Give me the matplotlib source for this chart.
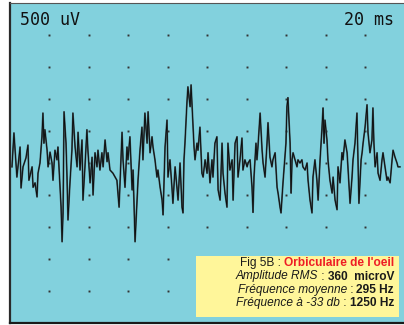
import matplotlib
matplotlib.use("Agg")
import matplotlib.pyplot as plt
from matplotlib.patches import Rectangle

# ---- data: EMG trace (time in ms, amplitude in microvolts) ----
t_ms = [1.0, 2.0, 3.5, 5.1, 5.6, 6.6, 8.1, 9.1, 9.6, 11.2, 11.7, 12.7, 13.7, 14.2, 15.2,
        16.2, 16.7, 17.2, 17.7, 18.8, 19.3, 20.3, 21.3, 21.8, 22.8, 23.8, 24.3, 25.4, 25.9,
        26.4, 26.9, 27.4, 28.4, 28.9, 29.4, 30.4, 31.4, 31.9, 33.0, 34.0, 34.5, 35.5, 36.5,
        37.0, 38.0, 39.0, 39.5, 40.6, 41.6, 42.1, 43.1, 44.1, 44.6, 45.6, 46.6, 47.2, 48.2,
        49.2, 49.7, 50.7, 52.2, 54.2, 55.3, 56.8, 57.3, 58.3, 59.3, 59.8, 60.8, 61.9, 62.4,
        63.4, 64.4, 64.9, 65.9, 66.9, 67.4, 68.4, 69.5, 70.0, 71.0, 72.0, 72.5, 73.5, 74.5,
        75.0, 76.1, 77.1, 77.6, 78.6, 79.6, 80.1, 81.1, 82.1, 82.6, 83.7, 84.7, 85.2, 86.2,
        87.2, 87.7, 88.2, 88.7, 89.7, 90.2, 91.3, 91.8, 92.8, 93.3, 93.8, 94.8, 95.3, 96.3,
        97.3, 97.9, 98.9, 99.9, 100.4, 101.4, 102.4, 102.9, 103.9, 104.9, 105.5, 106.5,
        107.5, 108.0, 109.0, 110.0, 110.5, 111.5, 112.6, 113.1, 114.1, 115.1, 115.6, 116.6,
        117.6, 118.1, 119.1, 120.2, 120.7, 121.7, 122.7, 123.2, 123.7, 124.7, 125.2, 125.7,
        126.8, 127.8, 128.3, 129.3, 130.3, 130.8, 131.8, 132.8, 133.3, 134.4, 135.4, 135.9,
        136.9, 137.4, 138.4, 138.9, 139.9, 140.4, 140.9, 142.0, 142.5, 143.0, 143.5, 144.5,
        145.5, 146.0, 147.0, 148.0, 148.5, 149.6, 150.6, 151.1, 152.1, 153.1, 153.6, 154.6,
        155.6, 156.2, 157.2, 158.2, 158.7, 159.2, 159.7, 160.7, 161.2, 162.2, 163.3, 163.8,
        164.8, 165.8, 166.3, 167.3, 168.3, 168.8, 169.8, 170.9, 171.4, 172.4, 173.4, 173.9,
        174.9, 175.9, 176.4, 176.9, 178.0, 178.5, 179.0, 180.0, 181.0, 181.5, 182.5, 183.5,
        184.0, 184.5, 185.1, 186.1, 186.6, 187.6, 188.6, 189.1, 190.1, 191.1, 191.6, 192.7,
        193.7, 194.2, 195.2, 196.2, 196.7, 197.7]
amp_uv = [-60, 470, -220, 250, -390, -60, 80, 280, -270, -60, -380, -310, -530, -160, 0,
          410, 780, 310, 520, 200, -60, 170, 0, -270, 200, 50, 250, -380, -690,
          -1230, -780, 800, 310, -220, -890, -310, 200, 780, 250, -60, 480, -110, 360,
          -580, -60, 520, 200, -310, 90, -500, 160, -60, 200, -110, 160, -60, 360,
          20, 160, -110, -160, -270, -690, 480, 50, -380, 250, 50, 410, -420, -110,
          -1230, -580, -270, 200, 560, 50, 780, 310, 800, 160, 410, 250, 50, -220,
          -110, -380, -580, -810, 250, 670, -220, 50, -380, -630, -60, -420, -580, 0,
          -690, -780, 50, 310, 940, 1190, 880, 1220, 560, 250, 50, 310, 200, 560,
          -160, -220, 50, -160, 160, -310, 50, -220, 310, 410, -420, -580,
          310, -160, -470, -690, 310, -110, 50, -580, 310, 410, -220, 50,
          390, -110, 50, -60, 0, 50, -380, -770, -220, 310, 50, 250,
          780, 200, 0, -220, 310, 630, 90, -60, 50, 160, -380, -470,
          -690, -780, -310, -110, 310, 880, 1020, 310, -470, 50, 160, 50,
          -60, 50, 0, 50, -60, -110, 0, -270, -580, -780, -220, 50,
          -270, -580, 50, 560, 860, 310, 670, 360, 50, -270, -470, -220,
          -580, -730, -60, -310, 160, 50, 360, 160, -110, -630, -220, 50,
          310, 780, 50, -630, 50, 160, 310, 560, 910, 470, 160, 360,
          860, 310, -60, 160, -160, -270, 50, 160, -60, -270, -220, -310,
          50, 200, 90, 0, -60, -60]

scale_labels = ["500 uV", "20 ms"]
caption_title = ["Fig 5B : ", "Orbiculaire de l'oeil"]
caption_rows = [
    ["Amplitude RMS", " : ", "360  microV"],
    ["Fréquence moyenne", " : ", "295 Hz"],
    ["Fréquence à -33 db", " : ", "1250 Hz"],
]

W, H = 404, 325
BG = "#82d1dd"
YELLOW = "#fff69a"

fig = plt.figure(figsize=(W / 100, H / 100), dpi=100)
fig.patch.set_facecolor("white")

ax = fig.add_axes([10 / W, 2 / H, 394.5 / W, 320 / H])
ax.set_facecolor(BG)
ax.set_xlim(0, 200)
ax.set_ylim(-2500, 2500)
ax.set_xticks([])
ax.set_yticks([])
ax.spines["right"].set_visible(False)
ax.spines["left"].set_color("#2a2a2a")
ax.spines["left"].set_linewidth(1.6)
ax.spines["bottom"].set_color("#1a1a1a")
ax.spines["bottom"].set_linewidth(1.6)
ax.spines["top"].set_color("#555555")
ax.spines["top"].set_linewidth(0.8)

# graticule dots
gx, gy = [], []
for i in range(1, 10):
    for j in range(1, 10):
        gx.append(i * 20)
        gy.append(-2500 + j * 500)
ax.plot(gx, gy, ls="none", marker="s", ms=1.4, mew=0, color="#333333", zorder=2)

ax.plot(t_ms, amp_uv, color="#3d5257", lw=1.25, zorder=3)
ax.plot(t_ms, amp_uv, color="#0a0a0a", lw=0.6, zorder=3)

mono = dict(family="DejaVu Sans Mono", fontsize=12, color="#111111")
fig.text(20 / W, 1 - 20 / H, scale_labels[0], ha="left", va="center", **mono)
fig.text(394 / W, 1 - 20 / H, scale_labels[1], ha="right", va="center", **mono)

# caption box
ax.add_patch(Rectangle((196 / W, 1 - 317 / H), 203 / W, 61 / H, transform=fig.transFigure,
                       facecolor=YELLOW, edgecolor="none", zorder=5, clip_on=False))

renderer = fig.canvas.get_renderer()
base = dict(family="Liberation Sans", fontsize=8.6, color="#1a1a1a")


def rich_line(y_px, parts, right_px=394):
    x = right_px / W
    for txt, style in reversed(parts):
        kw = dict(base)
        kw.update(style)
        t = fig.text(x, 1 - y_px / H, txt, ha="right", va="center", zorder=6, **kw)
        bb = t.get_window_extent(renderer)
        x = bb.x0 / W


rich_line(263, [(caption_title[0], {}),
                (caption_title[1], dict(weight="bold", color="#ee1c25"))])
for k, row in enumerate(caption_rows):
    rich_line(276.5 + 13.2 * k, [(row[0], dict(style="italic")),
                                 (row[1], {}),
                                 (row[2], dict(weight="bold"))])

fig.savefig("out.png", dpi=100)
